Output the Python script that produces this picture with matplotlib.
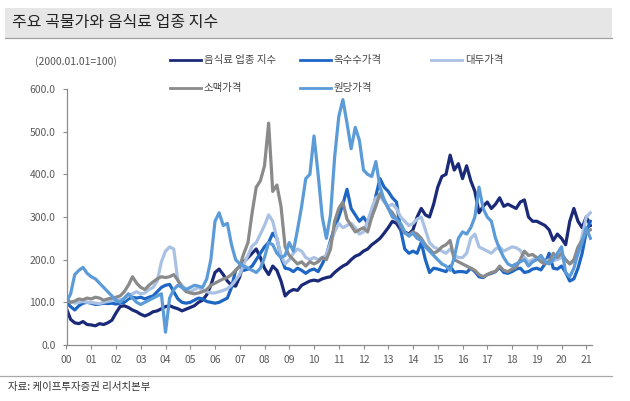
import numpy as np
import matplotlib
matplotlib.use("Agg")
import matplotlib.pyplot as plt
from matplotlib.lines import Line2D
from matplotlib.patches import Rectangle

plt.rcParams['font.family'] = ['Noto Sans CJK KR', 'DejaVu Sans']

# bimonthly sample points (decimal years), 2000.0 .. 2021.17
years = 2000 + np.arange(128) / 6.0

food = [85, 60, 52, 50, 55, 48,
        47, 45, 50, 48, 52, 58,
        75, 90, 92, 88, 82, 78,
        72, 68, 72, 78, 80, 85,
        90, 92, 88, 85, 80, 84,
        88, 92, 100, 105, 118, 140,
        170, 178, 165, 150, 140, 138,
        160, 195, 205, 215, 225, 205,
        180, 165, 185, 175, 150, 115,
        125, 130, 128, 140, 145, 150,
        152, 150, 155, 158, 160, 170,
        178, 185, 190, 200, 208, 212,
        220, 225, 235, 242, 250, 262,
        275, 290, 285, 270, 265, 260,
        270, 300, 320, 305, 300, 330,
        370, 395, 400, 445, 410, 425,
        390, 420, 385, 360, 310, 325,
        335, 320, 330, 345, 325, 330,
        325, 320, 335, 340, 300, 290,
        290, 285, 280, 270, 245, 260,
        250, 235, 290, 320, 290, 275,
        300, 280]

corn = [100, 90, 82, 92, 98, 100,
        98, 95, 96, 98, 97, 98,
        96, 98, 100, 108, 112, 110,
        112, 108, 112, 115, 125, 135,
        140, 142, 125, 108, 100, 98,
        100, 105, 110, 108, 102, 100,
        98, 100, 105, 110, 135, 175,
        185, 175, 178, 185, 200, 215,
        230, 240, 262, 250, 205, 180,
        178, 172, 180, 175, 168, 175,
        178, 172, 190, 210, 245, 275,
        300, 330, 365, 320, 305, 290,
        300, 285, 300, 350, 390, 370,
        360, 345, 335, 270, 225, 215,
        220, 215, 240, 200, 170, 180,
        178, 175, 172, 185, 170, 172,
        172, 170, 180, 172, 160, 158,
        165, 168, 172, 182, 170, 168,
        172, 178, 180, 170, 172, 178,
        180, 176, 190, 215, 180, 178,
        185, 170, 150, 155, 180, 215,
        265, 290]

soybean = [105, 102, 98, 100, 102, 100,
           100, 98, 97, 100, 102, 104,
           105, 106, 108, 115, 120, 125,
           120, 122, 130, 135, 150, 195,
           220, 230, 225, 150, 140, 130,
           125, 130, 135, 128, 125, 122,
           122, 125, 128, 132, 140, 152,
           165, 190, 210, 232, 240, 260,
           280, 305, 290, 250, 210, 190,
           200, 215, 225, 220, 205, 200,
           205, 200, 205, 210, 240, 265,
           285, 275, 280, 285, 275, 260,
           265, 290, 320, 345, 350, 335,
           325, 330, 320, 300, 290, 280,
           285, 295, 300, 270, 240, 230,
           225, 220, 215, 225, 210, 205,
           205, 215, 250, 260, 230, 225,
           220, 215, 225, 230, 220, 225,
           230, 228, 222, 205, 195, 200,
           205, 200, 195, 200, 198, 200,
           205, 200, 190, 195, 215, 255,
           300, 310]

wheat = [105, 100, 103, 108, 106, 110,
         108, 112, 110, 105, 108, 110,
         112, 115, 125, 140, 160, 145,
         135, 130, 140, 148, 155, 160,
         158, 160, 165, 152, 135, 125,
         122, 120, 122, 125, 130, 140,
         145, 150, 155, 158, 165, 175,
         185, 215, 240, 310, 370, 385,
         420, 520, 360, 375, 325, 230,
         210, 200, 190, 195, 185, 195,
         190, 195, 205, 200, 225, 290,
         320, 335, 295, 280, 265, 270,
         275, 265, 300, 325, 355, 340,
         320, 310, 295, 280, 262, 258,
         265, 260, 250, 235, 225, 215,
         220, 230, 235, 245, 200, 195,
         190, 185, 180, 175, 165, 160,
         165, 170, 172, 185, 175, 172,
         178, 182, 200, 220, 210, 212,
         205, 195, 190, 195, 215, 205,
         215, 200, 190, 200, 230, 245,
         265, 270]

sugar = [100, 120, 165, 175, 182, 168,
         160, 155, 145, 135, 125, 115,
         105, 100, 110, 120, 110, 100,
         95, 100, 105, 110, 115, 120,
         30, 110, 130, 140, 135, 130,
         135, 140, 138, 135, 155, 200,
         290, 310, 280, 285, 235, 200,
         190, 185, 180, 175, 170, 180,
         205, 240, 235, 215, 205, 210,
         240, 220, 270, 325, 390, 400,
         490, 400, 300, 250, 305, 440,
         535, 575, 520, 460, 510, 480,
         410, 400, 395, 430, 370, 340,
         320, 300, 295, 285, 265, 255,
         262, 250, 245, 230, 220, 210,
         200, 190, 185, 175, 205, 250,
         265, 260, 275, 300, 370, 320,
         300, 290, 250, 225, 205, 190,
         185, 190, 195, 200, 185, 195,
         200, 210, 195, 190, 200, 215,
         230, 170, 160, 180, 215, 240,
         275, 250]

labels = ['음식료 업종 지수', '옥수수가격', '대두가격', '소맥가격', '원당가격']
colors = ['#1b2a78', '#1e66c4', '#a9c1e3', '#8a8a8a', '#5b9bd8']
series = [food, corn, soybean, wheat, sugar]

year_ticks = list(range(2000, 2022))
year_labels = ['%02d' % (y % 100) for y in year_ticks]
y_ticks = [0, 100, 200, 300, 400, 500, 600]

W, H = 630, 401
fig = plt.figure(figsize=(W / 100, H / 100), dpi=100)

def fx(px):
    return px / W

def fy(py):
    return 1 - py / H

ax = fig.add_axes([fx(66.5), fy(345), fx(591.7) - fx(66.5), fy(89) - fy(345)])

for s, c, lab in zip(series, colors, labels):
    ax.plot(years, s, color=c, lw=2.3, label=lab, solid_joinstyle='round')

ax.set_xlim(2000, 2021.22)
ax.set_ylim(0, 600)
ax.set_xticks(year_ticks)
ax.set_xticklabels(year_labels)
ax.set_yticks(y_ticks)
ax.set_yticklabels(['%.1f' % v for v in y_ticks])
for sp in ['top', 'right']:
    ax.spines[sp].set_visible(False)
for sp in ['left', 'bottom']:
    ax.spines[sp].set_color('#8c8c8c')
    ax.spines[sp].set_linewidth(0.9)
ax.tick_params(axis='both', direction='out', length=3, width=0.8, color='#8c8c8c',
               labelsize=7.5, labelcolor='#5a5a5a')
ax.tick_params(axis='y', pad=5)
ax.tick_params(axis='x', pad=4)

# title band
fig.patches.append(Rectangle((fx(5), fy(38)), fx(612) - fx(5), fy(8) - fy(38),
                             transform=fig.transFigure, facecolor='#e6e6e6',
                             edgecolor='none', zorder=0))
fig.add_artist(Line2D([fx(5), fx(612)], [fy(38), fy(38)], transform=fig.transFigure,
                      color='#a0a0a0', lw=0.9))
fig.text(fx(12), fy(23), '주요 곡물가와 음식료 업종 지수', fontsize=11.5,
         color='#222222', va='center', ha='left')

# unit label
fig.text(fx(35), fy(62), '(2000.01.01=100)', fontsize=7.5, color='#555555',
         va='center', ha='left')

# legend (manual placement)
leg_pos = [(170, 60), (300, 60), (431, 60), (170, 88), (300, 88)]
for (lx, ly), c, lab in zip(leg_pos, colors, labels):
    fig.add_artist(Line2D([fx(lx), fx(lx + 31)], [fy(ly), fy(ly)],
                          transform=fig.transFigure, color=c, lw=2.0))
    fig.text(fx(lx + 34), fy(ly), lab, fontsize=7.5, color='#444444',
             va='center', ha='left')

# bottom rule and source
fig.add_artist(Line2D([fx(0), fx(612)], [fy(375.7), fy(375.7)], transform=fig.transFigure,
                      color='#a8a8a8', lw=0.9))
fig.text(fx(8), fy(387), '자료: 케이프투자증권 리서치본부', fontsize=7.5, color='#333333',
         va='center', ha='left')

fig.savefig('out.png', dpi=100)
